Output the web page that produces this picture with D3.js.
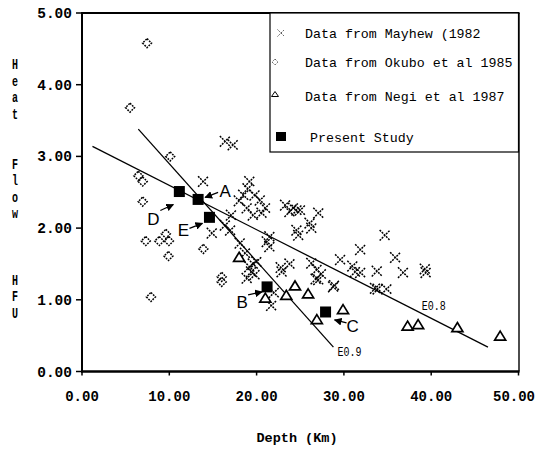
<!DOCTYPE html>
<html>
<head>
<meta charset="utf-8">
<script src="https://cdn.jsdelivr.net/npm/d3@7"></script>
<style>
  html, body { margin: 0; background: #fff; }
  svg { display: block; }
</style>
</head>
<body>
<svg id="chart" width="537" height="449"></svg>
<script>
// ── Data (depth km, heat flow HFU) ──────────────────────────────────────────
const mayhew = [
  [16.4, 3.21], [17.3, 3.16], [13.9, 2.65],
  [19.2, 2.65], [19.0, 2.55], [18.5, 2.46], [19.8, 2.46], [18.0, 2.38], [20.4, 2.39],
  [18.9, 2.28], [21.0, 2.28], [19.6, 2.18], [20.6, 2.21], [17.1, 2.18],
  [23.3, 2.32], [24.2, 2.28], [23.8, 2.23], [24.6, 2.25],
  [16.4, 2.04], [17.0, 1.97], [14.9, 1.93], [21.5, 1.88], [24.6, 1.97],
  [25.0, 2.25], [27.1, 2.21], [26.1, 2.07], [26.3, 2.00], [24.8, 1.90],
  [34.7, 1.90], [31.9, 1.70], [35.9, 1.59], [29.6, 1.56], [31.0, 1.47], [31.9, 1.38],
  [33.8, 1.40], [36.8, 1.38], [39.4, 1.38], [39.3, 1.43],
  [26.3, 1.51], [26.9, 1.42], [22.8, 1.45], [23.8, 1.50], [22.9, 1.39],
  [33.9, 1.15], [34.9, 1.15], [28.9, 1.20], [26.8, 1.29], [27.4, 1.36], [21.7, 0.92],
  [18.1, 1.79], [21.5, 1.74], [21.2, 1.81], [20.0, 1.53], [19.4, 1.39], [18.9, 1.30],
  [19.8, 1.35], [19.2, 1.46], [18.7, 1.65], [19.6, 1.50],
  [27.1, 1.28], [28.8, 1.18], [33.6, 1.16], [31.3, 1.39], [22.0, 1.10]
];
const okubo = [
  [7.45, 4.58], [5.5, 3.68], [10.1, 3.00], [6.45, 2.73], [6.95, 2.65], [6.95, 2.37],
  [7.3, 1.82], [8.85, 1.82], [9.6, 1.92], [9.95, 1.82], [9.9, 1.61], [7.9, 1.04],
  [16.0, 1.32], [16.0, 1.25], [13.9, 1.71]
];
const negi = [
  [18.0, 1.60], [21.0, 1.03], [23.4, 1.07], [24.4, 1.20], [25.9, 1.09], [26.9, 0.73],
  [29.9, 0.87], [37.3, 0.64], [38.5, 0.66], [43.0, 0.62], [47.9, 0.50]
];
const present = [[11.15, 2.51], [13.3, 2.40], [14.6, 2.15], [21.2, 1.18], [27.9, 0.83]];
const presentLabels = ["D", "A", "E", "B", "C"];

const fitE08 = [[1.2, 3.14], [46.5, 0.34]];
const fitE09 = [[6.45, 3.38], [28.8, 0.34]];
const fitNames = ["E0.8", "E0.9"];

const xTicks = [0, 10, 20, 30, 40, 50];
const yTicks = [0, 1, 2, 3, 4, 5];
const legendLabels = [
  "Data from Mayhew (1982",
  "Data from Okubo et al 1985",
  "Data from Negi et al 1987",
  "Present Study"
];
const yTitle = "Heat  Flow   HFU";
const xTitle = "Depth (Km)";

// ── Layout ───────────────────────────────────────────────────────────────────
const L = 82, R = 518.5, T = 13, B = 371.5;
const MONO = "'Liberation Mono', 'DejaVu Sans Mono', monospace";
const SANS = "'Liberation Sans', Arial, sans-serif";

const svg = d3.select("#chart");
const x = d3.scaleLinear().domain([0, 50]).range([L, R]);
const y = d3.scaleLinear().domain([0, 5]).range([B, T]);

// mono text; width only given where the original font is narrower than ours
function mtext(g, str, px, py, size, anchor = "start", weight = "normal", width = null) {
  const t = g.append("text")
    .attr("x", px).attr("y", py)
    .attr("font-family", MONO).attr("font-size", size).attr("font-weight", weight)
    .attr("text-anchor", anchor)
    .text(str);
  if (width) t.attr("textLength", width).attr("lengthAdjust", "spacingAndGlyphs");
  return t;
}

// ── Frame ────────────────────────────────────────────────────────────────────
svg.append("line").attr("x1", L).attr("x2", R + 1).attr("y1", T).attr("y2", T)
  .attr("stroke", "#000").attr("stroke-width", 2);
svg.append("line").attr("x1", R + 0.5).attr("x2", R + 0.5).attr("y1", T).attr("y2", B)
  .attr("stroke", "#000").attr("stroke-width", 1.4);
svg.append("line").attr("x1", L).attr("x2", L).attr("y1", T - 1).attr("y2", B + 1)
  .attr("stroke", "#000").attr("stroke-width", 2);
svg.append("line").attr("x1", L - 1).attr("x2", R + 1).attr("y1", B).attr("y2", B)
  .attr("stroke", "#000").attr("stroke-width", 2.5);

// ── Axes ─────────────────────────────────────────────────────────────────────
const yAxis = svg.append("g");
yTicks.forEach(t => {
  yAxis.append("line").attr("x1", L - 6).attr("x2", L).attr("y1", y(t)).attr("y2", y(t))
    .attr("stroke", "#000").attr("stroke-width", 1.5);
  mtext(yAxis, d3.format(".2f")(t), 72, y(t) + 5, 14.5, "end", "bold");
});

const xAxis = svg.append("g");
xTicks.forEach(t => {
  xAxis.append("line").attr("x1", x(t)).attr("x2", x(t)).attr("y1", B).attr("y2", B + 4)
    .attr("stroke", "#000").attr("stroke-width", 1.5);
  const last = t === xTicks[xTicks.length - 1];
  // last label sits against the page edge, as in the original
  mtext(xAxis, d3.format(".2f")(t), last ? 535 : x(t), 401, 14, last ? "end" : "middle", "bold");
});

// axis titles
mtext(svg, xTitle, 297, 442, 13.5, "middle", "bold");
const yt = svg.append("g");
[...yTitle].forEach((ch, i) => {
  if (ch === " ") return;
  mtext(yt, ch, 15, 69 + i * 16.6, 15, "middle", "bold", 6);
});

// ── Fitted lines ─────────────────────────────────────────────────────────────
const line = d3.line().x(d => x(d[0])).y(d => y(d[1]));
[fitE08, fitE09].forEach(f => {
  svg.append("path").datum(f).attr("d", line)
    .attr("fill", "none").attr("stroke", "#000").attr("stroke-width", 1.3);
});
// labels
{
  const slope = (fitE08[1][1] - fitE08[0][1]) / (fitE08[1][0] - fitE08[0][0]);
  const lx = 40.3, ly = fitE08[0][1] + slope * (lx - fitE08[0][0]);
  mtext(svg, fitNames[0], x(lx), y(ly) - 10, 13, "middle", "normal", 24);
  const e = fitE09[1];
  mtext(svg, fitNames[1], x(e[0]) + 16, y(e[1]) + 9, 13, "middle", "normal", 24);
}

// ── Markers ──────────────────────────────────────────────────────────────────
function crossPath(s) { return `M${-s},${-s}L${s},${s}M${-s},${s}L${s},${-s}`; }
function diamondPath(s) { return `M0,${-s}L${s},0L0,${s}L${-s},0Z`; }
function trianglePath(w, h) { return `M0,${-h / 2}L${w / 2},${h / 2}L${-w / 2},${h / 2}Z`; }

svg.append("g").selectAll("path").data(mayhew).join("path")
  .attr("transform", d => `translate(${x(d[0])},${y(d[1])})`)
  .attr("d", crossPath(5.3))
  .attr("fill", "none").attr("stroke", "#000").attr("stroke-width", 1.5)
  .attr("stroke-dasharray", "2,1");

svg.append("g").selectAll("path").data(okubo).join("path")
  .attr("transform", d => `translate(${x(d[0])},${y(d[1])})`)
  .attr("d", diamondPath(4.5))
  .attr("fill", "none").attr("stroke", "#000").attr("stroke-width", 1.5)
  .attr("stroke-dasharray", "1.8,1.1");

svg.append("g").selectAll("path").data(negi).join("path")
  .attr("transform", d => `translate(${x(d[0])},${y(d[1])})`)
  .attr("d", trianglePath(11, 9))
  .attr("fill", "#fff").attr("stroke", "#000").attr("stroke-width", 1.7);

svg.append("g").selectAll("rect").data(present).join("rect")
  .attr("x", d => x(d[0]) - 5.5).attr("y", d => y(d[1]) - 5.5)
  .attr("width", 11).attr("height", 11).attr("fill", "#000");

// ── Annotations (letters + arrows pointing at the present-study squares) ────
svg.append("defs").append("marker")
  .attr("id", "ah").attr("viewBox", "0 0 10 10").attr("refX", 9).attr("refY", 5)
  .attr("markerWidth", 6).attr("markerHeight", 6).attr("orient", "auto")
  .append("path").attr("d", "M0,0L10,5L0,10Z").attr("fill", "#000");

const annot = {
  D: { lab: [-26, 27], from: [-19, 19], to: [-6, 13] },
  A: { lab: [27, -8], from: [20, -7], to: [7, -2] },
  E: { lab: [-26, 13], from: [-20, 11], to: [-7, 6] },
  B: { lab: [-25, 15], from: [-19, 8], to: [-5, 5] },
  C: { lab: [27, 14], from: [21, 11], to: [9, 8] }
};
present.forEach((d, i) => {
  const a = annot[presentLabels[i]];
  const px = x(d[0]), py = y(d[1]);
  svg.append("line")
    .attr("x1", px + a.from[0]).attr("y1", py + a.from[1])
    .attr("x2", px + a.to[0]).attr("y2", py + a.to[1])
    .attr("stroke", "#000").attr("stroke-width", 1.3).attr("marker-end", "url(#ah)");
  svg.append("text")
    .attr("x", px + a.lab[0]).attr("y", py + a.lab[1] + 6)
    .attr("text-anchor", "middle").attr("font-family", SANS).attr("font-size", 17)
    .text(presentLabels[i]);
});

// ── Legend ───────────────────────────────────────────────────────────────────
const lg = svg.append("g");
lg.append("rect").attr("x", 270).attr("y", T).attr("width", R - 270).attr("height", 139)
  .attr("fill", "#fff").attr("stroke", "#000").attr("stroke-width", 1.2);
const rowY = [33, 62, 96, 137];
lg.append("path").attr("transform", `translate(281,${rowY[0]})`).attr("d", crossPath(3.5))
  .attr("fill", "none").attr("stroke", "#555").attr("stroke-width", 1).attr("stroke-dasharray", "1.5,1");
lg.append("path").attr("transform", `translate(275,${rowY[1]})`).attr("d", diamondPath(3))
  .attr("fill", "none").attr("stroke", "#555").attr("stroke-width", 1).attr("stroke-dasharray", "1.3,1");
lg.append("path").attr("transform", `translate(275,${rowY[2] - 2})`).attr("d", trianglePath(7, 5))
  .attr("fill", "none").attr("stroke", "#000").attr("stroke-width", 1);
lg.append("rect").attr("x", 276).attr("y", rowY[3] - 5).attr("width", 10).attr("height", 9).attr("fill", "#000");
legendLabels.forEach((s, i) => {
  mtext(lg, s, i === 3 ? 310 : 305, rowY[i] + 5, 13.3);
});
</script>
</body>
</html>
